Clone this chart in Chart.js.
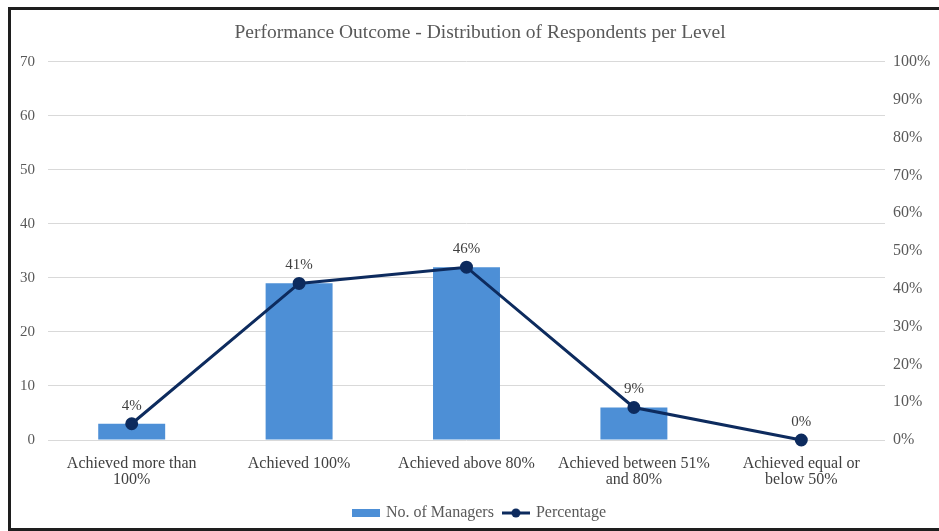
<!DOCTYPE html>
<html>
<head>
<meta charset="utf-8">
<script src="https://cdn.jsdelivr.net/npm/chart.js@4"></script>
<style>
  html, body { margin: 0; padding: 0; background: #fff; overflow: hidden; }
  #frame {
    position: absolute; left: 8px; top: 7px; width: 955px; height: 524px;
    border: 3px solid #1e1e1e; box-sizing: border-box;
  }
  #chart { position: absolute; left: 0; top: 0; }
</style>
</head>
<body>
<div id="frame"></div>
<canvas id="chart" width="960" height="531"></canvas>
<script>
// Outcome levels and the count of managers in each one
const categories = [
  ["Achieved more than", "100%"],
  "Achieved 100%",
  "Achieved above 80%",
  ["Achieved between 51%", "and 80%"],
  ["Achieved equal or", "below 50%"]
];
const managers = [3, 29, 32, 6, 0];
// share of the 70 respondents, in percent
const percentages = [4.3, 41.4, 45.7, 8.6, 0];
const countTicks = [0, 10, 20, 30, 40, 50, 60, 70];
const percentTicks = [0, 10, 20, 30, 40, 50, 60, 70, 80, 90, 100];

const BAR_COLOR = "#4d8fd6";
const LINE_COLOR = "#0d2b5e";
const TEXT_COLOR = "#595959";
const FONT = "'Liberation Serif', 'Times New Roman', serif";

// Small legend icons: a flat bar swatch and a line with a marker
function makeIcon(kind) {
  const c = document.createElement("canvas");
  c.width = 28;
  c.height = 12;
  const g = c.getContext("2d");
  if (kind === "bar") {
    g.fillStyle = BAR_COLOR;
    g.fillRect(0, 2, 28, 8);
  } else {
    g.strokeStyle = LINE_COLOR;
    g.lineWidth = 3;
    g.beginPath();
    g.moveTo(0, 6);
    g.lineTo(28, 6);
    g.stroke();
    g.fillStyle = LINE_COLOR;
    g.beginPath();
    g.arc(14, 6, 4.5, 0, Math.PI * 2);
    g.fill();
  }
  return c;
}

// Writes the rounded percentage above each point of the line
const pointLabels = {
  id: "pointLabels",
  afterDatasetsDraw(chart) {
    const ctx = chart.ctx;
    const meta = chart.getDatasetMeta(1);
    ctx.save();
    ctx.font = "15px " + FONT;
    ctx.fillStyle = "#404040";
    ctx.textAlign = "center";
    ctx.textBaseline = "middle";
    meta.data.forEach((pt, i) => {
      ctx.fillText(Math.round(percentages[i]) + "%", pt.x, pt.y - 18);
    });
    ctx.restore();
  }
};

new Chart(document.getElementById("chart"), {
  data: {
    labels: categories,
    datasets: [
      {
        type: "bar",
        label: "No. of Managers",
        data: managers,
        backgroundColor: BAR_COLOR,
        barPercentage: 0.4,
        categoryPercentage: 1,
        yAxisID: "y",
        order: 1
      },
      {
        type: "line",
        label: "Percentage",
        data: percentages,
        borderColor: LINE_COLOR,
        backgroundColor: LINE_COLOR,
        borderWidth: 3,
        pointRadius: 5,
        pointBackgroundColor: LINE_COLOR,
        tension: 0,
        clip: false,
        yAxisID: "y1",
        order: 0
      }
    ]
  },
  options: {
    responsive: false,
    animation: false,
    layout: { padding: { left: 0, right: 0, top: 0, bottom: 0 } },
    plugins: {
      title: {
        display: true,
        text: "Performance Outcome - Distribution of Respondents per Level",
        color: TEXT_COLOR,
        font: { family: FONT, size: 19.5, weight: "normal" },
        padding: { top: 21, bottom: 17.5 }
      },
      legend: {
        position: "bottom",
        labels: {
          usePointStyle: true,
          pointStyleWidth: 24,
          padding: 10,
          color: TEXT_COLOR,
          font: { family: FONT, size: 16 },
          generateLabels(chart) {
            return chart.data.datasets.map((ds, i) => ({
              text: ds.label,
              pointStyle: makeIcon(ds.type),
              fillStyle: ds.backgroundColor,
              strokeStyle: ds.borderColor,
              lineWidth: 0,
              fontColor: TEXT_COLOR,
              hidden: false,
              datasetIndex: i
            }));
          }
        }
      },
      tooltip: { enabled: false }
    },
    scales: {
      x: {
        grid: { display: false },
        border: { display: false },
        ticks: {
          color: "#404040",
          font: { family: FONT, size: 16, lineHeight: 1.05 },
          padding: 7,
          maxRotation: 0,
          autoSkip: false
        },
        afterFit(scale) { scale.height = 55; }
      },
      y: {
        position: "left",
        min: countTicks[0],
        max: countTicks[countTicks.length - 1],
        afterBuildTicks(scale) { scale.ticks = countTicks.map(v => ({ value: v })); },
        grid: { color: "#d9d9d9", drawTicks: false },
        border: { display: false },
        ticks: {
          color: TEXT_COLOR,
          font: { family: FONT, size: 15 },
          padding: 13
        },
        afterFit(scale) { scale.width = 48; }
      },
      y1: {
        position: "right",
        min: percentTicks[0],
        max: percentTicks[percentTicks.length - 1],
        afterBuildTicks(scale) { scale.ticks = percentTicks.map(v => ({ value: v })); },
        grid: { display: false, drawTicks: false },
        border: { display: false },
        ticks: {
          color: TEXT_COLOR,
          font: { family: FONT, size: 16 },
          padding: 8,
          callback: v => v + "%"
        },
        afterFit(scale) { scale.width = 75; }
      }
    }
  },
  plugins: [pointLabels]
});
</script>
</body>
</html>
